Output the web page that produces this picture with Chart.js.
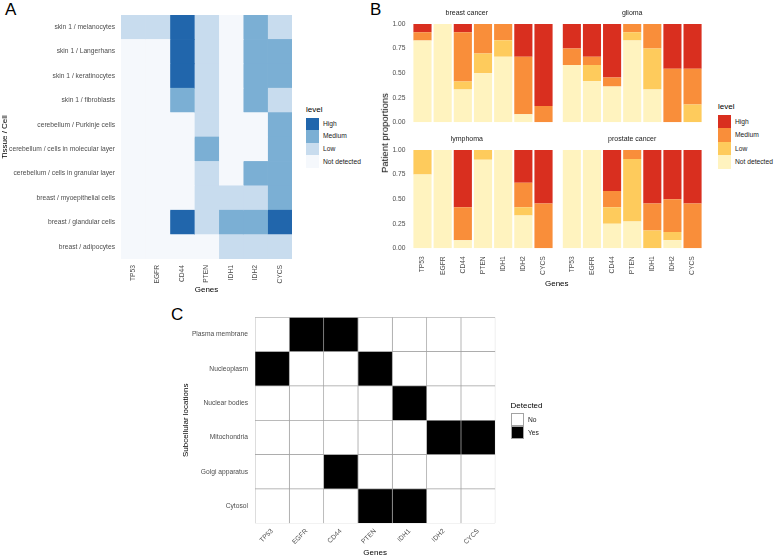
<!DOCTYPE html>
<html>
<head>
<meta charset="utf-8">
<script src="https://cdn.jsdelivr.net/npm/chart.js@4.4.0/dist/chart.umd.min.js"></script>
<style>
  body { margin: 0; width: 778px; height: 556px; overflow: hidden; background: #fff; position: relative;
         font-family: "Liberation Sans", Arial, sans-serif; }
  canvas { position: absolute; }
  .letter { position: absolute; font-size: 17px; line-height: 1; color: #000; }
  .txt { position: absolute; font-size: 8px; line-height: 10px; height: 10px; color: #000; white-space: nowrap; }
  .big { font-size: 9.5px; }
  .small { font-size: 6.7px; color: #1a1a1a; }
  .sw { position: absolute; box-sizing: border-box; }
</style>
</head>
<body>
<div class="letter" style="left:5px;top:1px">A</div>
<div class="letter" style="left:370px;top:1px">B</div>
<div class="letter" style="left:171px;top:306px">C</div>
<script>
// shared categories
const genes = ["TP53", "EGFR", "CD44", "PTEN", "IDH1", "IDH2", "CYCS"];
const levels = ["Not detected", "Low", "Medium", "High"];

// panel A: protein level per tissue/cell (0 = not detected ... 3 = high), one value per gene
const tissues = [
  "skin 1 / melanocytes", "skin 1 / Langerhans", "skin 1 / keratinocytes", "skin 1 / fibroblasts",
  "cerebellum / Purkinje cells", "cerebellum / cells in molecular layer", "cerebellum / cells in granular layer",
  "breast / myoepithelial cells", "breast / glandular cells", "breast / adipocytes"
];
const tissueLevels = [
  [1, 1, 3, 1, 0, 2, 1],
  [0, 0, 3, 1, 0, 2, 2],
  [0, 0, 3, 1, 0, 2, 2],
  [0, 0, 2, 1, 0, 2, 1],
  [0, 0, 0, 1, 0, 0, 2],
  [0, 0, 0, 2, 0, 0, 2],
  [0, 0, 0, 1, 0, 2, 2],
  [0, 0, 0, 1, 1, 1, 2],
  [0, 0, 3, 1, 2, 2, 3],
  [0, 0, 0, 0, 1, 1, 1]
];

// panel B: patient proportions, per gene (stack order: not detected, low, medium, high)
const breastNone   = [0.833, 1, 0.333, 0.5, 0.667, 0.083, 0];
const breastLow    = [0, 0, 0.083, 0.2, 0.167, 0, 0];
const breastMedium = [0.083, 0, 0.5, 0.3, 0.167, 0.584, 0.167];
const breastHigh   = [0.084, 0, 0.083, 0, 0, 0.333, 0.833];

const gliomaNone   = [0.583, 0.417, 0.364, 0.833, 0.333, 0, 0];
const gliomaLow    = [0, 0.166, 0, 0.084, 0.417, 0, 0.182];
const gliomaMedium = [0.167, 0.084, 0.091, 0.083, 0.25, 0.545, 0.363];
const gliomaHigh   = [0.25, 0.333, 0.545, 0, 0, 0.455, 0.455];

const lymphNone    = [0.75, 1, 0.083, 0.9, 1, 0.333, 0];
const lymphLow     = [0.25, 0, 0, 0.1, 0, 0.084, 0];
const lymphMedium  = [0, 0, 0.334, 0, 0, 0.25, 0.455];
const lymphHigh    = [0, 0, 0.583, 0, 0, 0.333, 0.545];

const prostateNone   = [1, 1, 0.25, 0.273, 0, 0.083, 0];
const prostateLow    = [0, 0, 0.167, 0.636, 0.182, 0.084, 0];
const prostateMedium = [0, 0, 0.167, 0.091, 0.273, 0.333, 0.455];
const prostateHigh   = [0, 0, 0.416, 0, 0.545, 0.5, 0.545];

const propTicks = [0, 0.25, 0.5, 0.75, 1];

// panel C: subcellular location detected (1) or not (0), one value per gene
const locations = ["Plasma membrane", "Nucleoplasm", "Nuclear bodies", "Mitochondria", "Golgi apparatus", "Cytosol"];
const detected = [
  [0, 1, 1, 0, 0, 0, 0],
  [1, 0, 0, 1, 0, 0, 0],
  [0, 0, 0, 0, 1, 0, 0],
  [0, 0, 0, 0, 0, 1, 1],
  [0, 0, 1, 0, 0, 0, 0],
  [0, 0, 0, 1, 1, 0, 0]
];

const blues = ["#f5f8fc", "#c8dcee", "#7bafd4", "#2166ac"];
const reds = ["#fff3bf", "#fecb5c", "#f98e3a", "#d92f1f"];

Chart.defaults.font.family = '"Liberation Sans", Arial, sans-serif';
Chart.defaults.color = "#4d4d4d";
Chart.defaults.animation = false;

function addCanvas(left, top, w, h) {
  const c = document.createElement("canvas");
  c.width = w; c.height = h;
  c.style.left = left + "px"; c.style.top = top + "px";
  document.body.appendChild(c);
  return c.getContext("2d");
}

function addText(text, cx, cy, cls, rotate) {
  const d = document.createElement("div");
  d.className = "txt " + (cls || "");
  d.textContent = text;
  document.body.appendChild(d);
  const w = d.offsetWidth;
  d.style.left = (cx - w / 2) + "px";
  d.style.top = (cy - 5) + "px";
  if (rotate) d.style.transform = "rotate(-90deg)";
}

function addLegend(x, titleY, top, sw, sh, title, names, colors, border) {
  const t = document.createElement("div");
  t.className = "txt"; t.textContent = title;
  t.style.left = x + "px"; t.style.top = (titleY - 5) + "px";
  document.body.appendChild(t);
  names.forEach((n, i) => {
    const s = document.createElement("div");
    s.className = "sw";
    s.style.cssText += `left:${x}px;top:${top + i * sh}px;width:${sw}px;height:${sh}px;background:${colors[i]};` +
      (border ? `border:1px solid ${border};` : "");
    document.body.appendChild(s);
    const l = document.createElement("div");
    l.className = "txt small"; l.textContent = n;
    l.style.left = (x + sw + 4) + "px"; l.style.top = (top + i * sh + sh / 2 - 5) + "px";
    document.body.appendChild(l);
  });
}

const noGrid = { display: false, drawTicks: false };
const tickFont = { size: 6.7 };
const titleFont = { size: 8 };

// ---------- A: tissue heatmap ----------
new Chart(addCanvas(0, 0, 296, 295), {
  type: "bar",
  data: {
    labels: tissues,
    datasets: genes.map((g, gi) => ({
      label: g,
      data: tissues.map(() => 1),
      backgroundColor: tissueLevels.map(r => blues[r[gi]])
    }))
  },
  options: {
    indexAxis: "y",
    responsive: false,
    layout: { padding: { top: 15, right: 4 } },
    plugins: { legend: { display: false }, tooltip: { enabled: false } },
    datasets: { bar: { barPercentage: 1, categoryPercentage: 1, borderWidth: 0 } },
    scales: {
      x: { type: "linear", stacked: true, min: 0, max: 7, display: false },
      genes: {
        type: "category", labels: genes, position: "bottom", offset: true,
        grid: noGrid, border: { display: false },
        ticks: { font: tickFont, minRotation: 90, maxRotation: 90, padding: 6, autoSkip: false },
        title: { display: true, text: "Genes", font: titleFont, color: "#000", padding: 0 },
        afterFit: s => { s.height = 36; }
      },
      y: {
        stacked: true, grid: noGrid, border: { display: false },
        ticks: { font: tickFont, padding: 6, autoSkip: false },
        title: { display: true, text: "Tissue / Cell", font: titleFont, color: "#000", padding: 0 },
        afterFit: s => { s.width = 121; }
      }
    }
  }
});
addLegend(306, 110, 117.5, 13, 12.6, "level", levels.slice().reverse(), blues.slice().reverse());

// ---------- B: patient proportions ----------
function facet(left, top, w, h, title, series, opt) {
  new Chart(addCanvas(left, top, w, h), {
    type: "bar",
    data: {
      labels: genes,
      datasets: levels.map((lv, i) => ({ label: lv, data: series[i], backgroundColor: reds[i] }))
    },
    options: {
      responsive: false,
      layout: { padding: opt.padding },
      plugins: {
        legend: { display: false }, tooltip: { enabled: false },
        title: { display: true, text: title, color: "#1a1a1a", font: { size: 7, weight: "normal" },
                 padding: opt.titlePad }
      },
      datasets: { bar: { barPercentage: 0.9, categoryPercentage: 1, borderWidth: 0 } },
      scales: {
        x: {
          stacked: true, display: opt.showX, grid: noGrid, border: { display: false },
          ticks: { font: tickFont, minRotation: 90, maxRotation: 90, padding: 8, autoSkip: false },
          afterFit: s => {
            if (opt.showX) s.height = opt.xHeight;
            s.paddingLeft = 0; s.paddingRight = 0;
          }
        },
        y: {
          stacked: true, min: 0, max: 1, display: opt.showY, grid: noGrid, border: { display: false },
          afterBuildTicks: s => { s.ticks = propTicks.map(v => ({ value: v })); },
          ticks: { font: tickFont, padding: 7, callback: v => v.toFixed(2) },
          afterFit: s => {
            if (opt.showY) s.width = 32.4;
            s.paddingTop = 0; s.paddingBottom = 0;
          }
        }
      }
    }
  });
}
facet(380, 0, 175, 127, "breast cancer", [breastNone, breastLow, breastMedium, breastHigh],
  { showX: false, showY: true, padding: { right: 1.4, bottom: 4.7 }, titlePad: { top: 9.3, bottom: 6.3 } });
facet(560, 0, 145, 127, "glioma", [gliomaNone, gliomaLow, gliomaMedium, gliomaHigh],
  { showX: false, showY: false, padding: { left: 1.8, right: 2.4, bottom: 4.7 }, titlePad: { top: 9.3, bottom: 6.3 } });
facet(380, 127, 175, 163, "lymphoma", [lymphNone, lymphLow, lymphMedium, lymphHigh],
  { showX: true, showY: true, xHeight: 41.7, padding: { right: 1.4 }, titlePad: { top: 8.3, bottom: 6.3 } });
facet(560, 127, 145, 163, "prostate cancer", [prostateNone, prostateLow, prostateMedium, prostateHigh],
  { showX: true, showY: false, xHeight: 41.7, padding: { left: 1.8, right: 2.4 }, titlePad: { top: 8.3, bottom: 6.3 } });
addText("Patient proportions", 385, 133, "big", true);
addText("Genes", 557, 284);
addLegend(718, 107, 115, 13, 13.4, "level", levels.slice().reverse(), reds.slice().reverse());

// ---------- C: subcellular locations ----------
new Chart(addCanvas(160, 300, 340, 258), {
  type: "bar",
  data: {
    labels: locations,
    datasets: genes.map((g, gi) => ({
      label: g,
      data: locations.map(() => 1),
      backgroundColor: detected.map(r => (r[gi] ? "#000" : "#fff"))
    }))
  },
  options: {
    indexAxis: "y",
    responsive: false,
    layout: { padding: { top: 17.3, right: 4.7 } },
    plugins: { legend: { display: false }, tooltip: { enabled: false } },
    datasets: { bar: { barPercentage: 1, categoryPercentage: 1, borderWidth: 0.7, borderColor: "#a3a3a3", borderSkipped: false } },
    scales: {
      x: { type: "linear", stacked: true, min: 0, max: 7, display: false },
      genes: {
        type: "category", labels: genes, position: "bottom", offset: true,
        grid: noGrid, border: { display: false },
        ticks: { font: tickFont, minRotation: 45, maxRotation: 45, padding: 4, autoSkip: false },
        title: { display: true, text: "Genes", font: titleFont, color: "#000", padding: 0 },
        afterFit: s => { s.height = 34.7; }
      },
      y: {
        stacked: true, grid: noGrid, border: { display: false },
        ticks: { font: tickFont, padding: 7, autoSkip: false },
        title: { display: true, text: "Subcellular locations", font: titleFont, color: "#000", padding: { top: 20.7 } },
        afterFit: s => { s.width = 95; }
      }
    }
  }
});
addLegend(510.5, 406, 413.3, 13.4, 13, "Detected", ["No", "Yes"], ["#fff", "#000"], "#a3a3a3");
</script>
</body>
</html>
